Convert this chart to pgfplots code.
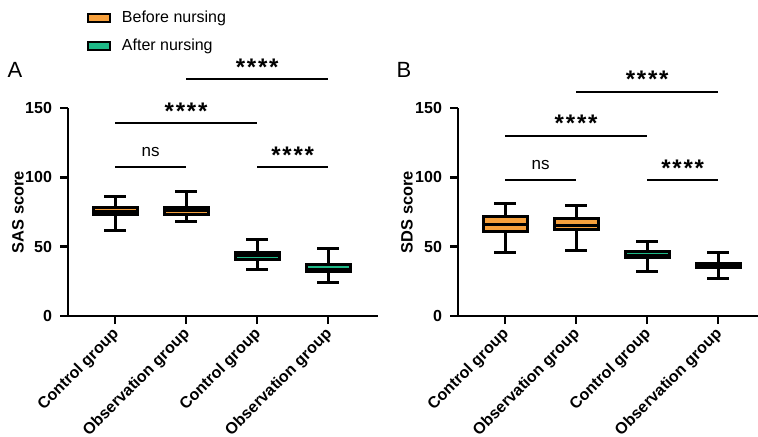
\documentclass[border=0pt]{standalone}
\usepackage{fontspec}
\setmainfont{Liberation Sans}
\usepackage{pgfplots}
\pgfplotsset{compat=1.18}
\usepgfplotslibrary{statistics}
\definecolor{bef}{RGB}{247,160,60}
\definecolor{aft}{RGB}{30,185,135}
\newcommand\stars{{\fontsize{12}{14}\selectfont\bfseries *\kern0.9pt*\kern0.9pt*\kern0.9pt*}}
\tikzset{sig/.style={line width=0.9pt}}
\pgfplotsset{
 myax/.style={
  scale only axis, height=104pt, ymin=0, ymax=150, ytick={0,50,100,150},
  xmin=0.338, xtick={1,2,3,4},
  xticklabels={Control group, Observation group, Control group, Observation group},
  axis x line=bottom, axis y line=left,
  axis line style={-, line width=1.2pt},
  tick style={line width=1.2pt, black}, tick align=outside, major tick length=4pt,
  /pgf/number format/assume math mode=true,
  tick label style={font=\fontsize{8}{9.6}\selectfont\bfseries},
  yticklabel style={xshift=-0.5pt},
  xticklabel style={xshift=-2pt, rotate=45, anchor=north east, inner sep=0.8pt, font=\fontsize{8}{9.6}\selectfont\bfseries},
  ylabel style={font=\fontsize{8.2}{10}\selectfont\bfseries},
  clip=false,
  boxplot/draw direction=y,
  boxplot/box extend=0.62,
  boxplot/whisker extend=0.31,
 },
 bx/.style={draw=black, line width=1.5pt, fill=#1, forget plot},
}
\begin{document}
\begin{tikzpicture}
\useasboundingbox (0,0) rectangle (379pt,218pt);
% Panel A
\begin{axis}[myax, at={(34pt,60pt)}, anchor=south west, width=155pt, xmax=4.70,
  ylabel={SAS score},
  ylabel style={at={(axis description cs:-0.161,0.5)}, anchor=center},
  legend style={draw=none, fill=none, at={(axis description cs:0.0585,1.488)}, anchor=north west,
    font=\fontsize{8}{9.6}\selectfont, row sep=2.5pt, column sep=3.5pt, inner sep=0pt},
  legend cell align=left]
\addlegendimage{legend image code/.code={\draw[fill=bef,draw=black,line width=1.2pt] (0pt,-2pt) rectangle (11pt,2pt);}}
\addlegendentry{Before nursing}
\addlegendimage{legend image code/.code={\draw[fill=aft,draw=black,line width=1.2pt] (0pt,-2pt) rectangle (11pt,2pt);}}
\addlegendentry{After nursing}
\addplot[bx=bef, boxplot prepared={draw position=1, median=75.7, upper quartile=78.2, lower quartile=72.9, upper whisker=86.5, lower whisker=61.8}] coordinates {};
\addplot[bx=bef, boxplot prepared={draw position=2, median=76.2, upper quartile=78.2, lower quartile=72.9, upper whisker=89.6, lower whisker=67.8}] coordinates {};
\addplot[bx=aft, boxplot prepared={draw position=3, median=43.5, upper quartile=45.8, lower quartile=41.0, upper whisker=55.5, lower whisker=33.2}] coordinates {};
\addplot[bx=aft, boxplot prepared={draw position=4, median=33.7, upper quartile=36.9, lower quartile=31.8, upper whisker=48.8, lower whisker=24.3}] coordinates {};
\draw[sig] (axis cs:1,107.5) -- (axis cs:2,107.5) node[midway, yshift=7.5pt, inner sep=0, font=\fontsize{8.5}{10}\selectfont]{ns};
\draw[sig] (axis cs:1,139) -- (axis cs:3,139) node[midway, yshift=6pt, inner sep=0]{\stars};
\draw[sig] (axis cs:2,171) -- (axis cs:4,171) node[midway, yshift=6pt, inner sep=0]{\stars};
\draw[sig] (axis cs:3,107.5) -- (axis cs:4,107.5) node[midway, yshift=6pt, inner sep=0]{\stars};
\end{axis}
% Panel B
\begin{axis}[myax, at={(229pt,60pt)}, anchor=south west, width=150pt, xmax=4.56,
  ylabel={SDS score},
  ylabel style={at={(axis description cs:-0.17,0.5)}, anchor=center}]
\addplot[bx=bef, boxplot prepared={draw position=1, median=66.3, upper quartile=71.5, lower quartile=61.0, upper whisker=80.8, lower whisker=45.9}] coordinates {};
\addplot[bx=bef, boxplot prepared={draw position=2, median=65.6, upper quartile=70.3, lower quartile=62.1, upper whisker=79.8, lower whisker=47.6}] coordinates {};
\addplot[bx=aft, boxplot prepared={draw position=3, median=43.8, upper quartile=46.5, lower quartile=41.9, upper whisker=53.9, lower whisker=32.2}] coordinates {};
\addplot[bx=aft, boxplot prepared={draw position=4, median=36.5, upper quartile=38.1, lower quartile=35.0, upper whisker=45.9, lower whisker=26.9}] coordinates {};
\draw[sig] (axis cs:1,98) -- (axis cs:2,98) node[midway, yshift=7.5pt, inner sep=0, font=\fontsize{8.5}{10}\selectfont]{ns};
\draw[sig] (axis cs:1,130) -- (axis cs:3,130) node[midway, yshift=6pt, inner sep=0]{\stars};
\draw[sig] (axis cs:2,161.8) -- (axis cs:4,161.8) node[midway, yshift=6pt, inner sep=0]{\stars};
\draw[sig] (axis cs:3,98) -- (axis cs:4,98) node[midway, yshift=6pt, inner sep=0]{\stars};
\end{axis}
\node[font=\fontsize{11}{13}\selectfont] at (7.5pt,183pt) {A};
\node[font=\fontsize{11}{13}\selectfont] at (202pt,183pt) {B};
\end{tikzpicture}
\end{document}
